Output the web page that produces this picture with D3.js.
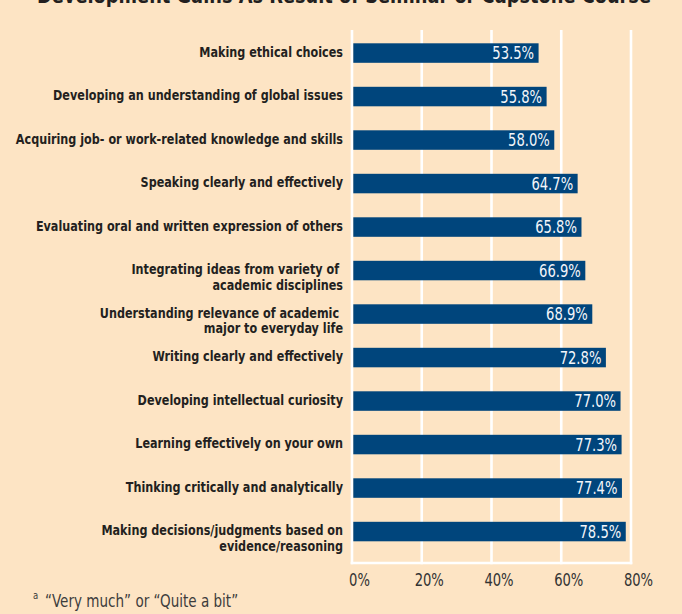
<!DOCTYPE html>
<html>
<head>
<meta charset="utf-8">
<script src="https://cdn.jsdelivr.net/npm/d3@7"></script>
<style>
  html, body { margin: 0; padding: 0; background: #fde4c4; }
  svg { display: block; }
  text { font-family: "DejaVu Sans Condensed", "Liberation Sans Narrow", sans-serif; }
</style>
</head>
<body>
<div id="chart"></div>
<script>
// Share of students reporting gains ("very much" or "quite a bit")
const categories = [
  "Making ethical choices",
  "Developing an understanding of global issues",
  "Acquiring job- or work-related knowledge and skills",
  "Speaking clearly and effectively",
  "Evaluating oral and written expression of others",
  "Integrating ideas from variety of \nacademic disciplines",
  "Understanding relevance of academic \nmajor to everyday life",
  "Writing clearly and effectively",
  "Developing intellectual curiosity",
  "Learning effectively on your own",
  "Thinking critically and analytically",
  "Making decisions/judgments based on\nevidence/reasoning"
];
const values = [53.5, 55.8, 58.0, 64.7, 65.8, 66.9, 68.9, 72.8, 77.0, 77.3, 77.4, 78.5];
const tickValues = [0, 20, 40, 60, 80];
const titleText = "Development Gains As Result of Seminar or Capstone Course";
const footnoteText = "\u201CVery much\u201D or \u201CQuite a bit\u201D";

const width = 682, height = 614;
const barColor = "#00457c";
const bg = "#fde4c4";
const narrow = 0.86; // horizontal squeeze giving a condensed face

const svg = d3.select("#chart").append("svg")
  .attr("width", width).attr("height", height);

svg.append("rect").attr("width", width).attr("height", height).attr("fill", bg);

const x = d3.scaleLinear().domain([0, 80]).range([352, 631]);
const y = d3.scaleBand().domain(categories)
  .range([43.3, 541.3]).paddingInner(24 / 43.5).paddingOuter(0);

const plotTop = 30, plotBottom = 563;

// Title (sits partly above the top edge)
svg.append("text")
  .attr("transform", `translate(344,2.5) scale(0.9,1)`)
  .attr("text-anchor", "middle")
  .attr("font-size", 22).attr("font-weight", "bold")
  .attr("fill", "#231f20")
  .text(titleText);

// Vertical gridlines
svg.append("g").selectAll("line").data(tickValues).join("line")
  .attr("x1", d => x(d)).attr("x2", d => x(d))
  .attr("y1", plotTop).attr("y2", plotBottom + 1.2)
  .attr("stroke", "#ffffff").attr("stroke-width", 2.6);

// Bottom baseline
svg.append("line")
  .attr("x1", x(0) - 1.3).attr("x2", x(80) + 1.3)
  .attr("y1", plotBottom).attr("y2", plotBottom)
  .attr("stroke", "#ffffff").attr("stroke-width", 2.6);

// Bars
svg.append("g").selectAll("rect").data(values).join("rect")
  .attr("x", x(0) + 1.3)
  .attr("y", (d, i) => y(categories[i]))
  .attr("width", d => x(d) - x(0) - 1.3)
  .attr("height", y.bandwidth())
  .attr("fill", barColor);

// Value labels inside bars
svg.append("g").selectAll("text").data(values).join("text")
  .attr("transform", (d, i) =>
    `translate(${x(d) - 4.5},${y(categories[i]) + y.bandwidth() / 2 + 6.3}) scale(${narrow},1)`)
  .attr("text-anchor", "end")
  .attr("font-size", 17)
  .attr("fill", "#f4f6fa")
  .text(d => d.toFixed(1) + "%");

// Category labels
const labels = svg.append("g").selectAll("text").data(categories).join("text")
  .attr("text-anchor", "end")
  .attr("font-size", 14.5).attr("font-weight", "bold")
  .attr("fill", "#231f20")
  .style("white-space", "pre")
  .attr("transform", d => `translate(343,${y(d) + y.bandwidth() / 2 + 3.8}) scale(${narrow},1)`);
labels.each(function(d) {
  const lines = d.split("\n");
  d3.select(this).selectAll("tspan").data(lines).join("tspan")
    .attr("x", 0)
    .attr("dy", (l, i) => i === 0 ? 0 : 15.5)
    .text(l => l);
});

// X axis
const axis = svg.append("g")
  .attr("transform", `translate(0,${plotBottom})`)
  .call(d3.axisBottom(x).tickValues(tickValues).tickFormat(d => d + "%").tickSize(0));
axis.select(".domain").remove();
axis.selectAll("text")
  .attr("y", 0).attr("dy", 0)
  .attr("transform", `translate(7,23) scale(${narrow},1)`)
  .attr("font-size", 17)
  .attr("font-family", null)
  .attr("fill", "#333333");

// Footnote
const foot = svg.append("text")
  .attr("transform", `translate(33,606.7) scale(${narrow},1)`)
  .attr("font-size", 17.5).attr("fill", "#3c3c3c");
foot.append("tspan").attr("font-size", 11).attr("dy", -8).text("a");
foot.append("tspan").attr("x", 14).attr("dy", 8).text(footnoteText);
</script>
</body>
</html>
